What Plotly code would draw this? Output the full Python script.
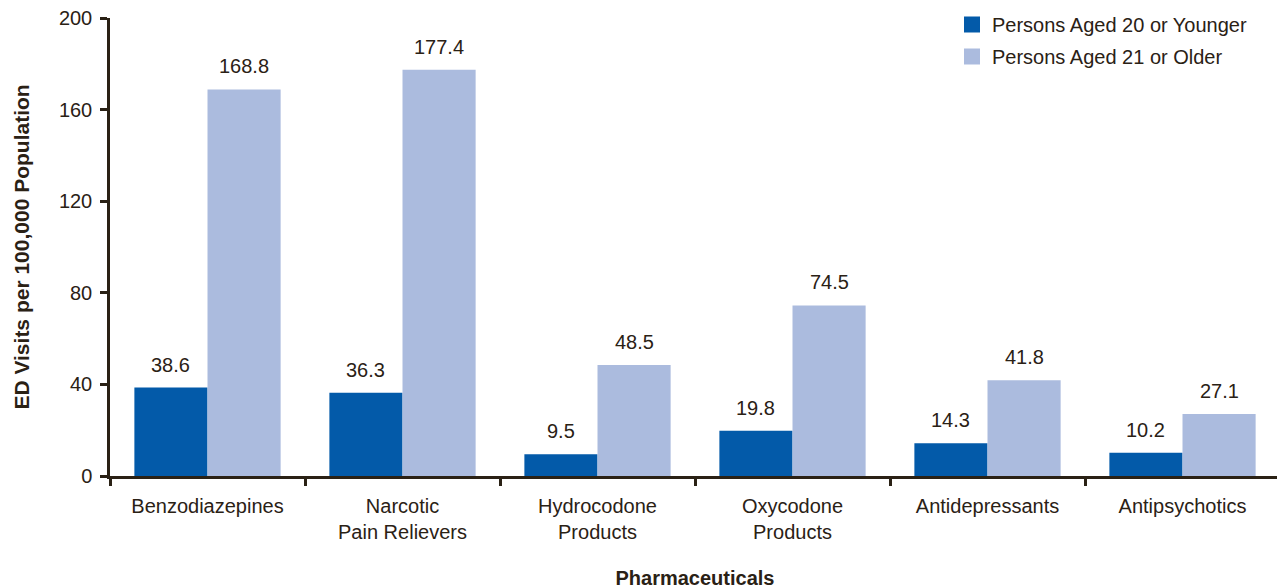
import plotly.graph_objects as go

categories = ["Benzodiazepines", "Narcotic<br>Pain Relievers", "Hydrocodone<br>Products",
              "Oxycodone<br>Products", "Antidepressants", "Antipsychotics"]
young = [38.6, 36.3, 9.5, 19.8, 14.3, 10.2]
old = [168.8, 177.4, 48.5, 74.5, 41.8, 27.1]
series_names = ["Persons Aged 20 or Younger", "Persons Aged 21 or Older"]
colors = ["#035aa9", "#abbbde"]
yticks = [0, 40, 80, 120, 160, 200]

txt = "#2a2115"
font_family = "Liberation Sans, Arial, Helvetica, sans-serif"
FS = 20

# page body has an 8px margin; compensate so the plot lands where intended
W, H = 1285, 588
ML, MR, MT, MB = 102, 13, 10, 120
BARGAP = 0.25

fig = go.Figure()
for vals, name, col in [(young, series_names[0], colors[0]), (old, series_names[1], colors[1])]:
    fig.add_trace(go.Bar(x=categories, y=vals, name=name, marker_color=col,
                         marker_line_width=0, showlegend=False))
# legend entries (square swatches)
for i, (name, col) in enumerate(zip(series_names, colors)):
    fig.add_trace(go.Scatter(x=[None], y=[None], mode="markers", name=name,
                             legendgroup=f"g{i}",
                             marker=dict(symbol="square", size=20, color=col)))

# value labels above bars
plot_w = W - ML - MR
plot_h = H - MT - MB
bar_px = plot_w / len(categories) * (1 - BARGAP) / 2
annotations = []
for vals, sgn in [(young, -1), (old, 1)]:
    for c, v in zip(categories, vals):
        annotations.append(dict(x=c, y=v, xref="x", yref="y", text=f"{v:.1f}",
                                showarrow=False, yanchor="bottom", xanchor="center",
                                xshift=sgn * bar_px / 2, yshift=10,
                                font=dict(size=FS, color=txt)))

fig.update_layout(
    width=W, height=H,
    margin=dict(l=ML, r=MR, t=MT, b=MB, autoexpand=False),
    paper_bgcolor="white", plot_bgcolor="white",
    font=dict(family=font_family, color=txt, size=FS),
    barmode="group", bargap=BARGAP, bargroupgap=0,
    annotations=annotations,
    legend=dict(x=(944 - ML) / plot_w, xanchor="left", y=1 + 13 / plot_h, yanchor="top",
                font=dict(size=FS, color=txt), bgcolor="rgba(0,0,0,0)",
                tracegroupgap=3),
)
fig.update_xaxes(
    automargin=False,
    showline=True, linecolor=txt, linewidth=2.5,
    ticks="outside", tickson="boundaries", ticklen=7, tickwidth=2.5, tickcolor=txt,
    ticklabelstandoff=10,
    tickfont=dict(size=FS, color=txt),
    title=dict(text="<b>Pharmaceuticals</b>", font=dict(size=FS, color=txt), standoff=30),
)
fig.update_yaxes(
    automargin=False,
    range=[0, 200], tickvals=yticks, showgrid=False, zeroline=False,
    showline=True, linecolor=txt, linewidth=2.5,
    ticks="outside", ticklen=7, tickwidth=2.5, tickcolor=txt,
    ticklabelstandoff=4, ticklabeloverflow="allow",
    tickfont=dict(size=FS, color=txt),
    title=dict(text="<b>ED Visits per 100,000 Population</b>", font=dict(size=21, color=txt), standoff=24),
)

fig.write_html("out.html")
